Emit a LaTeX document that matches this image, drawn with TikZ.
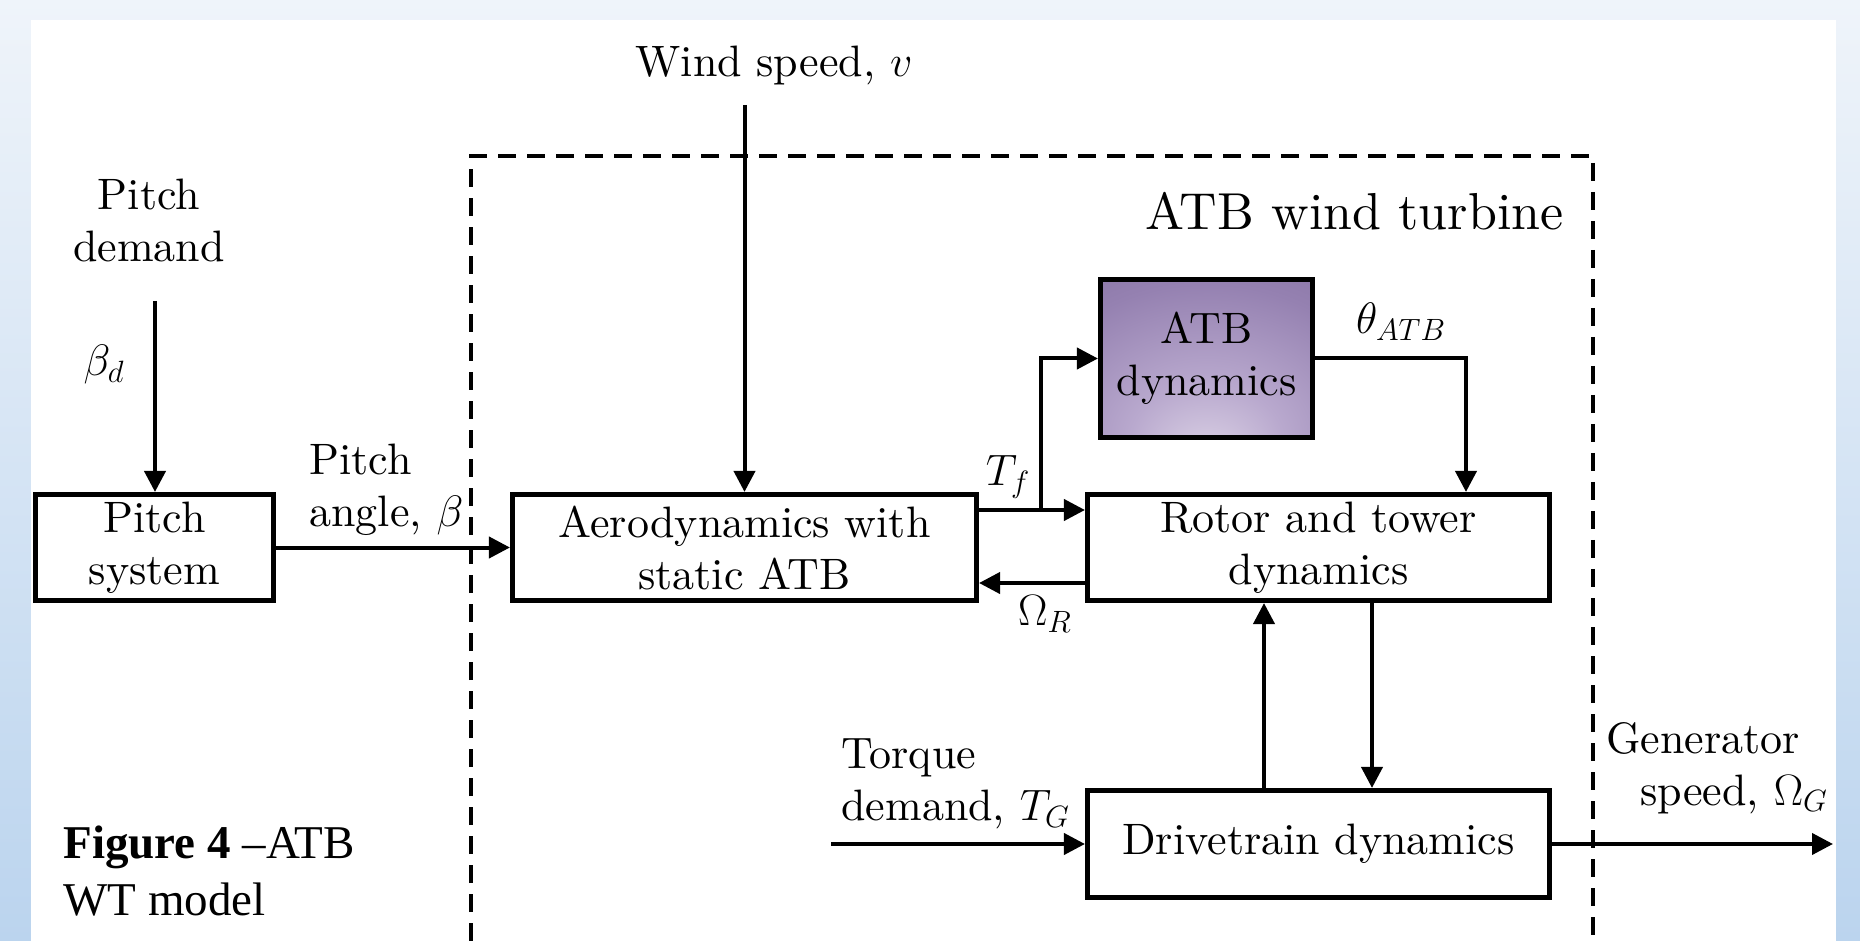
\RequirePackage{fix-cm}
\documentclass[tikz,border=0pt]{standalone}
\usepackage{fontspec}
\setmainfont{lmroman10-regular.otf}[BoldFont=lmroman10-bold.otf, ItalicFont=lmroman10-italic.otf, BoldItalicFont=lmroman10-bolditalic.otf]
\newfontfamily\capfont{Liberation Serif}
\usetikzlibrary{arrows.meta,shadings}
\definecolor{bgtop}{HTML}{EFF4FA}
\definecolor{bgbot}{HTML}{BBD4EE}
\definecolor{atblight}{HTML}{DCD3E6}
\definecolor{atbmidl}{HTML}{B9A9CE}
\definecolor{atbmid}{HTML}{9581B1}
\definecolor{atbmidd}{HTML}{7A6596}
\definecolor{atbdark}{HTML}{685283}
\pgfdeclareradialshading{atbshade}{\pgfpoint{0bp}{-32bp}}{color(0bp)=(atblight); color(18bp)=(atbmidl); color(42bp)=(atbmid); color(72bp)=(atbmidd); color(100bp)=(atbdark)}
\newcommand\mainsize{\fontsize{22}{26}\selectfont}
\newcommand\bigsize{\fontsize{26}{31}\selectfont}
\begin{document}
\begin{tikzpicture}[x=0.5pt,y=-0.5pt,
  box/.style={draw, line width=2.3pt, inner sep=0pt, align=center, font=\mainsize},
  conn/.style={line width=2pt, -{Triangle[length=10.5pt,width=10.5pt]}},
  lab/.style={font=\mainsize, inner sep=0pt},
  dashbox/.style={line width=2pt, dash pattern=on 9pt off 5.5pt}]
\useasboundingbox (0,0) rectangle (1860,941);
\shade[top color=bgtop, bottom color=bgbot] (0,0) rectangle (1860,941);
\fill[white] (31,20) rectangle (1836,941);
% dashed enclosure
\draw[dashbox] (471,941) -- (471,156) -- (1593,156) -- (1593,941);
% blocks
\node[box, minimum width=119.25pt, minimum height=53.25pt] (pitch) at (154.5,547.5) {Pitch\\system};
\node[box, minimum width=232.25pt, minimum height=53.25pt] (aero) at (744.5,547.5) {Aerodynamics with\\static ATB};
\node[box, minimum width=231.25pt, minimum height=53.25pt] (rotor) at (1318.5,547.5) {Rotor and tower\\dynamics};
\node[box, shade, shading=atbshade, minimum width=106.25pt, minimum height=79.25pt] (atb) at (1206.5,358.5) {ATB\\dynamics};
\node[box, minimum width=231.25pt, minimum height=53.75pt] (drive) at (1318.5,844) {Drivetrain dynamics};
% labels
\node[lab, anchor=base] (wind) at (774,77) {Wind speed, $v$};
\node[lab, align=center] (pdem) at (149,220.75) {Pitch\\demand};
\node[lab] (bd) at (104,365) {$\beta_d$};
\node[lab, align=left, anchor=west] (pang) at (309,490) {Pitch\\angle, $\beta$};
\node[lab, font=\bigsize, anchor=base east] (title) at (1564,230) {ATB wind turbine};
\node[lab] (tf) at (1008,477) {$T_f$};
\node[lab] (omr) at (1045,614) {$\Omega_R$};
\node[lab] (theta) at (1401,322) {$\theta_{ATB}$};
\node[lab, align=left, anchor=west] (tdem) at (841,784) {Torque\\demand, $T_G$};
\node[lab, align=left, anchor=west] (gen) at (1606,768) {Generator\\\hspace*{17pt}speed, $\Omega_G$};
\node[anchor=west, align=left, inner sep=0pt, font=\capfont\fontsize{23.5}{28.5}\selectfont] (cap) at (63,871) {{\bfseries Figure 4} –ATB\\WT model};
% connector points
\coordinate (bds) at (155,301);
\coordinate (ws) at (744.5,105);
\coordinate (tq) at (831,844);
\coordinate (gout) at (1833,844);
\coordinate (br) at (1041,510);
\coordinate (tfy) at (0,510);
\coordinate (omy) at (0,583);
\coordinate (thx) at (1466,0);
\coordinate (upx) at (1264,0);
\coordinate (dnx) at (1372,0);
% connectors
\draw[conn] (bds) -- (bds |- pitch.north);
\draw[conn] (pitch.east) -- (aero.west);
\draw[conn] (ws) -- (aero.north);
\draw[conn] (aero.east |- tfy) -- (rotor.west |- tfy);
\draw[conn] (br) |- (atb.west);
\draw[conn] (atb.east) -| (thx |- rotor.north);
\draw[conn] (rotor.west |- omy) -- (aero.east |- omy);
\draw[conn] (upx |- drive.north) -- (upx |- rotor.south);
\draw[conn] (dnx |- rotor.south) -- (dnx |- drive.north);
\draw[conn] (tq) -- (drive.west);
\draw[conn] (drive.east) -- (gout);
\end{tikzpicture}
\end{document}
